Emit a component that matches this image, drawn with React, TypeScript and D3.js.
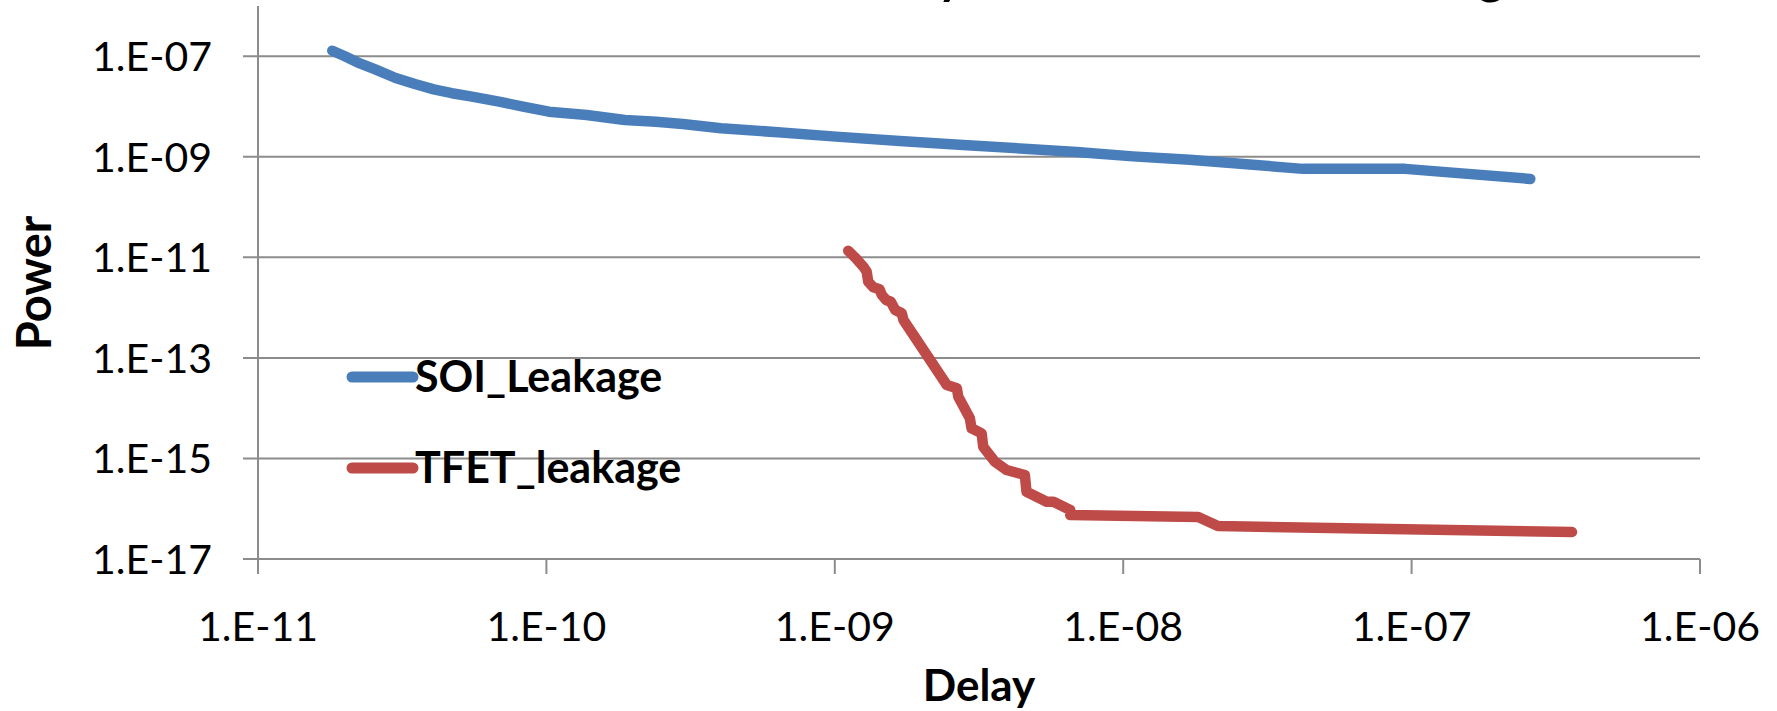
import React from "react";
import * as d3 from "d3";

const WIDTH = 1777;
const HEIGHT = 711;

const chartTitle = "Power vs Delay for SOI and TFET Leakage";
const xAxisTitle = "Delay";
const yAxisTitle = "Power";

const xTickValues = [1e-11, 1e-10, 1e-9, 1e-8, 1e-7, 1e-6];
const xTickLabels = ["1.E-11", "1.E-10", "1.E-09", "1.E-08", "1.E-07", "1.E-06"];
const yTickValues = [1e-17, 1e-15, 1e-13, 1e-11, 1e-9, 1e-7];
const yTickLabels = ["1.E-17", "1.E-15", "1.E-13", "1.E-11", "1.E-09", "1.E-07"];

const seriesNames = ["SOI_Leakage", "TFET_leakage"];
const seriesColors = ["#4A7EBB", "#BE4B48"];

const soiDelay = [
  1.81e-11, 2.0e-11, 2.21e-11, 2.55e-11, 3.0e-11, 3.5e-11, 4.07e-11, 4.7e-11, 5.52e-11,
  6.85e-11, 8.3e-11, 1.02e-10, 1.38e-10, 1.87e-10, 2.4e-10, 2.97e-10, 4.03e-10,
  6.35e-10, 1.01e-9, 1.68e-9, 2.79e-9, 4.39e-9, 6.9e-9, 1.08e-8, 1.7e-8, 2.68e-8,
  4.2e-8, 9.5e-8, 2.58e-7,
];
const soiPower = [
  1.29e-7, 1.0e-7, 7.6e-8, 5.5e-8, 3.7e-8, 2.8e-8, 2.2e-8, 1.84e-8, 1.57e-8,
  1.25e-8, 1.0e-8, 7.9e-9, 6.8e-9, 5.4e-9, 5.0e-9, 4.5e-9, 3.7e-9,
  3.08e-9, 2.52e-9, 2.07e-9, 1.72e-9, 1.47e-9, 1.25e-9, 1.02e-9, 8.7e-10, 7.1e-10,
  5.76e-10, 5.76e-10, 3.63e-10,
];

const tfetDelay = [
  1.113e-9, 1.175e-9, 1.256e-9, 1.29e-9, 1.306e-9, 1.36e-9, 1.43e-9, 1.455e-9,
  1.507e-9, 1.564e-9, 1.62e-9, 1.707e-9, 1.73e-9, 2.445e-9, 2.65e-9, 2.68e-9,
  2.94e-9, 2.98e-9, 3.23e-9, 3.27e-9, 3.59e-9, 3.94e-9, 4.56e-9, 4.62e-9,
  5.43e-9, 5.73e-9, 6.55e-9, 6.55e-9, 1.82e-8, 2.13e-8, 3.6e-7,
];
const tfetPower = [
  1.36e-11, 1.0e-11, 6.53e-12, 5.19e-12, 3.28e-12, 2.54e-12, 2.32e-12, 1.79e-12,
  1.42e-12, 1.31e-12, 8.97e-13, 7.73e-13, 5.67e-13, 2.89e-14, 2.49e-14, 1.69e-14,
  6.3e-15, 3.98e-15, 3.16e-15, 1.71e-15, 8.63e-16, 5.89e-16, 4.69e-16, 2.18e-16,
  1.38e-16, 1.38e-16, 9.44e-17, 7.5e-17, 6.84e-17, 4.53e-17, 3.44e-17,
];

const FONT = "Lato, 'Open Sans', 'DejaVu Sans', sans-serif";

export default function App() {
  const left = 258;
  const right = 1700;
  const top = 6;
  const bottom = 559;

  const x = d3.scaleLog().domain([1e-11, 1e-6]).range([left, right]);
  const y = d3.scaleLog().domain([1e-17, 1e-6]).range([bottom, top]);

  const line = d3
    .line<[number, number]>()
    .x((d) => x(d[0]))
    .y((d) => y(d[1]));

  const soiData: [number, number][] = soiDelay.map((d, i) => [d, soiPower[i]]);
  const tfetData: [number, number][] = tfetDelay.map((d, i) => [d, tfetPower[i]]);
  const series = [soiData, tfetData];

  const gridColor = "#8C8C8C";
  const tickLen = 15;

  return (
    <svg
      width={WIDTH}
      height={HEIGHT}
      style={{ position: "absolute", left: 0, top: 0, background: "#fff" }}
      fontFamily={FONT}
    >
      <rect x={0} y={0} width={WIDTH} height={HEIGHT} fill="#fff" />
      {/* title (mostly clipped above the picture) */}
      <text x={1081} y={-6} textAnchor="middle" fontSize={48.5} fontWeight="bold" fill="#000">
        {chartTitle}
      </text>

      {/* horizontal gridlines + y ticks */}
      {yTickValues.map((v, i) => (
        <g key={"yg" + i}>
          <line x1={left - tickLen} x2={right} y1={y(v)} y2={y(v)} stroke={gridColor} strokeWidth={2} />
          <text x={212} y={y(v)} dy="0.36em" textAnchor="end" fontSize={41} fill="#000">
            {yTickLabels[i]}
          </text>
        </g>
      ))}

      {/* y axis line */}
      <line x1={left} x2={left} y1={top} y2={bottom} stroke={gridColor} strokeWidth={2} />

      {/* x axis ticks */}
      {xTickValues.map((v, i) => (
        <g key={"xt" + i}>
          <line x1={x(v)} x2={x(v)} y1={bottom} y2={bottom + tickLen} stroke={gridColor} strokeWidth={2} />
          <text x={x(v)} y={bottom + 82} textAnchor="middle" fontSize={41} fill="#000">
            {xTickLabels[i]}
          </text>
        </g>
      ))}

      {/* series */}
      {series.map((s, i) => (
        <path
          key={"s" + i}
          d={line(s) || ""}
          fill="none"
          stroke={seriesColors[i]}
          strokeWidth={10.5}
          strokeLinecap="round"
          strokeLinejoin="round"
        />
      ))}

      {/* legend */}
      {seriesNames.map((name, i) => {
        const ly = i === 0 ? 377 : 468;
        return (
          <g key={"lg" + i}>
            <line
              x1={352}
              x2={413}
              y1={ly}
              y2={ly}
              stroke={seriesColors[i]}
              strokeWidth={11}
              strokeLinecap="round"
            />
            <text x={415} y={ly + 15} fontSize={43} fontWeight="bold" fill="#000">
              {name}
            </text>
          </g>
        );
      })}

      {/* axis titles */}
      <text x={979} y={701} textAnchor="middle" fontSize={44} fontWeight="bold" fill="#000">
        {xAxisTitle}
      </text>
      <text
        transform={`translate(51, 283) rotate(-90)`}
        textAnchor="middle"
        fontSize={47}
        fontWeight="bold"
        fill="#000"
      >
        {yAxisTitle}
      </text>
    </svg>
  );
}
